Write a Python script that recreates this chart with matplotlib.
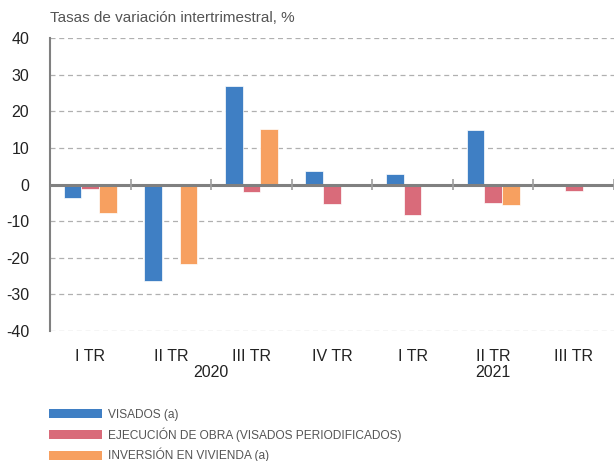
import matplotlib
matplotlib.use("Agg")
import matplotlib.pyplot as plt
import numpy as np

# ===============================
# DATA
# ===============================

quarters = ["I TR", "II TR", "III TR", "IV TR", "I TR", "II TR", "III TR"]
years = ["2020", "2020", "2020", "2020", "2021", "2021", "2021"]

visados = [-3.7, -26.4, 27.0, 3.7, 2.9, 15.0, np.nan]
ejecucion = [-1.3, -0.1, -2.1, -5.4, -8.2, -5.1, -1.9]
inversion = [-7.9, -21.7, 15.1, -0.3, -0.5, -5.6, np.nan]

series_names = [
    "VISADOS (a)",
    "EJECUCIÓN DE OBRA (VISADOS PERIODIFICADOS)",
    "INVERSIÓN EN VIVIENDA (a)",
]
series_colors = ["#3F7FC4", "#D96B7A", "#F7A060"]

# ===============================
# FIGURE
# ===============================

plt.rcParams["font.family"] = ["Liberation Sans", "DejaVu Sans"]
plt.rcParams["axes.unicode_minus"] = False

fig = plt.figure(figsize=(6.14, 4.61), dpi=100)
ax = fig.add_axes([50 / 614, 1 - 331 / 461, 564 / 614, 293 / 461])

x = np.arange(len(quarters))
w = 0.22
for i, (vals, name, col) in enumerate(zip([visados, ejecucion, inversion],
                                          series_names, series_colors)):
    ax.bar(x + (i - 1) * w, vals, width=w, color=col, label=name,
           edgecolor="white", linewidth=0.5, zorder=3)

ax.set_xlim(-0.5, len(quarters) - 0.5)
ax.set_ylim(-40, 40)
ax.set_yticks(np.arange(-40, 41, 10))

# dashed grid, solid zero line
for v in np.arange(-40, 41, 10):
    if v != 0:
        ax.axhline(v, color="#B0B0B0", linestyle=(0, (4, 3)), linewidth=0.9, zorder=1)
ax.axhline(0, color="#808080", linewidth=2.2, zorder=4)
ax.vlines(np.arange(len(quarters)) + 0.5, -1.5, 1.5, color="#A0A0A0",
          linewidth=1.2, zorder=4)

for s in ["top", "right", "bottom"]:
    ax.spines[s].set_visible(False)
ax.spines["left"].set_color("#808080")
ax.spines["left"].set_linewidth(1.5)

ax.tick_params(axis="y", length=0, pad=15, labelsize=11.5, labelcolor="#222222")
ax.set_xticks(x)
ax.set_xticklabels(quarters)
ax.tick_params(axis="x", length=0, pad=13, labelsize=11.5, labelcolor="#222222")

# year labels under each group of quarters
for yr in dict.fromkeys(years):
    idx = [i for i, y in enumerate(years) if y == yr]
    ax.text(np.mean(idx), -0.143, yr, transform=ax.get_xaxis_transform(),
            ha="center", va="center", fontsize=11.5, color="#222222")

fig.text(50 / 614, 1 - 18 / 461, "Tasas de variación intertrimestral, %",
         ha="left", va="center", fontsize=11, color="#555555")

leg = fig.legend(loc="upper left", bbox_to_anchor=(49 / 614, 1 - 409 / 461),
                 frameon=False, fontsize=8.6, borderaxespad=0,
                 handlelength=4.4, handleheight=0.75, handletextpad=0.55,
                 labelspacing=0.52, borderpad=0)
for t in leg.get_texts():
    t.set_color("#555555")
for h in leg.legend_handles:
    h.set_edgecolor("none")

fig.savefig("out.png", dpi=100)
